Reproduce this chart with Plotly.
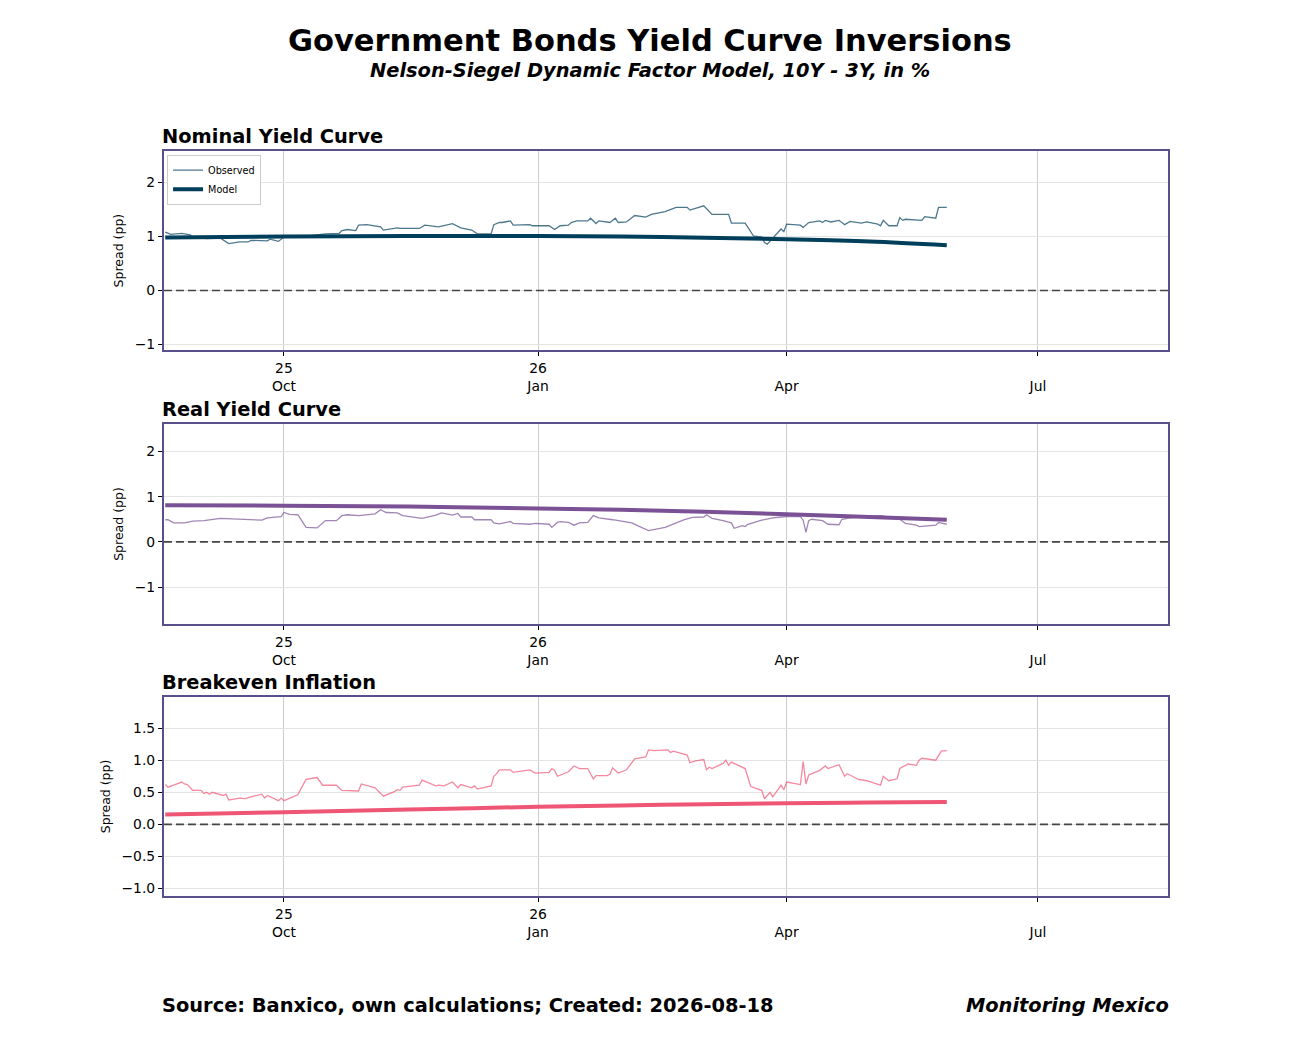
import plotly.graph_objects as go
from plotly.subplots import make_subplots

# ---- data (spread 10Y - 3Y, pp) ----
nom_obs_dates = [
    "2025-08-19", "2025-08-21", "2025-08-25", "2025-08-28", "2025-08-29", "2025-09-03",
    "2025-09-08", "2025-09-11", "2025-09-15", "2025-09-18", "2025-09-19", "2025-09-24",
    "2025-09-25", "2025-09-26", "2025-09-29", "2025-10-01", "2025-10-03", "2025-10-10",
    "2025-10-16", "2025-10-21", "2025-10-22", "2025-10-24", "2025-10-27", "2025-10-28",
    "2025-10-31", "2025-11-05", "2025-11-06", "2025-11-11", "2025-11-12", "2025-11-14",
    "2025-11-19", "2025-11-21", "2025-11-26", "2025-12-01", "2025-12-04", "2025-12-08",
    "2025-12-10", "2025-12-15", "2025-12-16", "2025-12-18", "2025-12-19", "2025-12-22",
    "2025-12-23", "2025-12-29", "2025-12-30", "2026-01-05", "2026-01-07", "2026-01-09",
    "2026-01-12", "2026-01-13", "2026-01-15", "2026-01-19", "2026-01-20", "2026-01-22",
    "2026-01-23", "2026-01-27", "2026-01-29", "2026-01-30", "2026-02-02", "2026-02-05",
    "2026-02-09", "2026-02-11", "2026-02-16", "2026-02-20", "2026-02-24", "2026-02-25",
    "2026-03-02", "2026-03-05", "2026-03-11", "2026-03-12", "2026-03-17", "2026-03-18",
    "2026-03-20", "2026-03-23", "2026-03-24", "2026-03-25", "2026-03-27", "2026-03-30",
    "2026-03-31", "2026-04-01", "2026-04-06", "2026-04-07", "2026-04-09", "2026-04-13",
    "2026-04-14", "2026-04-15", "2026-04-17", "2026-04-20", "2026-04-22", "2026-04-24",
    "2026-04-28", "2026-04-30", "2026-05-04", "2026-05-05", "2026-05-06", "2026-05-08",
    "2026-05-11", "2026-05-12", "2026-05-13", "2026-05-14", "2026-05-20", "2026-05-21",
    "2026-05-25", "2026-05-26", "2026-05-29",
]
nom_obs = [
    1.08, 1.04, 1.06, 1.03, 0.99, 0.96,
    0.97, 0.87, 0.90, 0.90, 0.93, 0.93,
    0.92, 0.95, 0.91, 0.99, 1.01, 1.01,
    1.05, 1.06, 1.11, 1.13, 1.11, 1.21,
    1.22, 1.18, 1.12, 1.16, 1.15, 1.15,
    1.15, 1.21, 1.18, 1.24, 1.16, 1.12,
    1.05, 1.05, 1.22, 1.26, 1.26, 1.29,
    1.21, 1.22, 1.20, 1.20, 1.13, 1.20,
    1.21, 1.26, 1.29, 1.29, 1.34, 1.24,
    1.29, 1.26, 1.34, 1.26, 1.27, 1.39,
    1.36, 1.41, 1.46, 1.54, 1.54, 1.49,
    1.57, 1.41, 1.41, 1.25, 1.25, 1.17,
    1.01, 0.99, 0.89, 0.86, 0.97, 1.14,
    1.09, 1.23, 1.21, 1.17, 1.26, 1.29,
    1.26, 1.30, 1.27, 1.30, 1.22, 1.28,
    1.25, 1.27, 1.23, 1.20, 1.30, 1.20,
    1.20, 1.35, 1.30, 1.32, 1.30, 1.37,
    1.34, 1.54, 1.54,
]

real_obs_dates = [
    "2025-08-19", "2025-08-20", "2025-08-22", "2025-08-26", "2025-08-29", "2025-09-02",
    "2025-09-08", "2025-09-16", "2025-09-19", "2025-09-23", "2025-09-25", "2025-09-30",
    "2025-10-01", "2025-10-03", "2025-10-06", "2025-10-09", "2025-10-13", "2025-10-16",
    "2025-10-20", "2025-10-22", "2025-10-24", "2025-10-28", "2025-11-03", "2025-11-05",
    "2025-11-07", "2025-11-11", "2025-11-13", "2025-11-20", "2025-11-25", "2025-11-27",
    "2025-12-01", "2025-12-03", "2025-12-04", "2025-12-08", "2025-12-09", "2025-12-15",
    "2025-12-16", "2025-12-18", "2025-12-22", "2025-12-23", "2025-12-29", "2025-12-31",
    "2026-01-05", "2026-01-06", "2026-01-08", "2026-01-09", "2026-01-12", "2026-01-14",
    "2026-01-16", "2026-01-19", "2026-01-21", "2026-01-23", "2026-01-28", "2026-02-04",
    "2026-02-06", "2026-02-10", "2026-02-16", "2026-02-19", "2026-02-23", "2026-02-26",
    "2026-03-02", "2026-03-03", "2026-03-05", "2026-03-09", "2026-03-12", "2026-03-13",
    "2026-03-16", "2026-03-17", "2026-03-18", "2026-03-23", "2026-03-26", "2026-03-27",
    "2026-03-30", "2026-04-01", "2026-04-06", "2026-04-07", "2026-04-08", "2026-04-09",
    "2026-04-10", "2026-04-14", "2026-04-16", "2026-04-17", "2026-04-20", "2026-04-21",
    "2026-04-24", "2026-04-30", "2026-05-05", "2026-05-12", "2026-05-14", "2026-05-18",
    "2026-05-19", "2026-05-25", "2026-05-26", "2026-05-29",
]
real_obs = [
    0.49, 0.49, 0.42, 0.42, 0.46, 0.47,
    0.52, 0.50, 0.49, 0.48, 0.53, 0.56,
    0.65, 0.61, 0.60, 0.32, 0.31, 0.47,
    0.47, 0.58, 0.60, 0.58, 0.62, 0.71,
    0.65, 0.64, 0.58, 0.52, 0.59, 0.64,
    0.59, 0.63, 0.55, 0.55, 0.49, 0.49,
    0.42, 0.40, 0.45, 0.41, 0.39, 0.41,
    0.39, 0.32, 0.43, 0.45, 0.43, 0.37,
    0.42, 0.43, 0.58, 0.53, 0.49, 0.42,
    0.36, 0.25, 0.32, 0.39, 0.49, 0.54,
    0.55, 0.60, 0.52, 0.47, 0.42, 0.30,
    0.36, 0.34, 0.39, 0.48, 0.52, 0.53,
    0.55, 0.56, 0.56, 0.48, 0.21, 0.47,
    0.50, 0.47, 0.39, 0.39, 0.38, 0.50,
    0.53, 0.56, 0.58, 0.50, 0.41, 0.37,
    0.34, 0.37, 0.43, 0.39,
]

be_obs_dates = [
    "2025-08-19", "2025-08-20", "2025-08-22", "2025-08-25", "2025-08-26", "2025-08-27",
    "2025-08-29", "2025-09-01", "2025-09-02", "2025-09-03", "2025-09-04", "2025-09-05",
    "2025-09-09", "2025-09-10", "2025-09-11", "2025-09-15", "2025-09-17", "2025-09-19",
    "2025-09-23", "2025-09-24", "2025-09-25", "2025-09-29", "2025-09-30", "2025-10-01",
    "2025-10-06", "2025-10-09", "2025-10-13", "2025-10-15", "2025-10-20", "2025-10-22",
    "2025-10-28", "2025-10-29", "2025-11-03", "2025-11-05", "2025-11-06", "2025-11-10",
    "2025-11-11", "2025-11-12", "2025-11-13", "2025-11-19", "2025-11-20", "2025-11-25",
    "2025-11-26", "2025-11-28", "2025-12-01", "2025-12-03", "2025-12-04", "2025-12-08",
    "2025-12-09", "2025-12-10", "2025-12-15", "2025-12-16", "2025-12-17", "2025-12-18",
    "2025-12-22", "2025-12-23", "2025-12-29", "2025-12-31", "2026-01-05", "2026-01-06",
    "2026-01-07", "2026-01-08", "2026-01-12", "2026-01-14", "2026-01-16", "2026-01-19",
    "2026-01-21", "2026-01-22", "2026-01-26", "2026-01-27", "2026-01-28", "2026-01-30",
    "2026-02-02", "2026-02-05", "2026-02-09", "2026-02-10", "2026-02-12", "2026-02-17",
    "2026-02-18", "2026-02-19", "2026-02-24", "2026-02-25", "2026-02-27", "2026-03-02",
    "2026-03-03", "2026-03-04", "2026-03-05", "2026-03-09", "2026-03-10", "2026-03-11",
    "2026-03-12", "2026-03-17", "2026-03-19", "2026-03-23", "2026-03-24", "2026-03-26",
    "2026-03-27", "2026-03-30", "2026-03-31", "2026-04-01", "2026-04-06", "2026-04-07",
    "2026-04-08", "2026-04-09", "2026-04-13", "2026-04-15", "2026-04-16", "2026-04-20",
    "2026-04-22", "2026-04-23", "2026-04-27", "2026-04-30", "2026-05-05", "2026-05-06",
    "2026-05-08", "2026-05-11", "2026-05-12", "2026-05-15", "2026-05-18", "2026-05-19",
    "2026-05-20", "2026-05-25", "2026-05-27", "2026-05-29",
]
be_obs = [
    0.62, 0.58, 0.61, 0.66, 0.63, 0.62,
    0.53, 0.53, 0.48, 0.50, 0.47, 0.50,
    0.45, 0.47, 0.38, 0.41, 0.40, 0.43,
    0.47, 0.41, 0.45, 0.37, 0.41, 0.37,
    0.46, 0.70, 0.73, 0.61, 0.61, 0.53,
    0.52, 0.63, 0.57, 0.49, 0.44, 0.51,
    0.54, 0.53, 0.58, 0.61, 0.69, 0.60,
    0.61, 0.60, 0.66, 0.57, 0.62, 0.57,
    0.60, 0.55, 0.60, 0.75, 0.79, 0.85,
    0.85, 0.81, 0.85, 0.80, 0.81, 0.87,
    0.84, 0.75, 0.82, 0.91, 0.87, 0.87,
    0.71, 0.76, 0.76, 0.78, 0.88, 0.80,
    0.85, 1.02, 1.05, 1.16, 1.15, 1.16,
    1.12, 1.14, 1.08, 0.96, 0.99, 1.01,
    0.85, 0.89, 0.87, 0.95, 1.00, 0.92,
    0.97, 0.87, 0.59, 0.53, 0.40, 0.50,
    0.43, 0.61, 0.54, 0.66, 0.62, 0.98,
    0.63, 0.77, 0.84, 0.91, 0.87, 0.93,
    0.75, 0.79, 0.70, 0.68, 0.61, 0.75,
    0.68, 0.71, 0.87, 0.94, 0.92, 1.00,
    1.03, 1.00, 1.14, 1.15,
]

model_dates = ["2025-08-19", "2025-10-01", "2025-11-15", "2026-01-01", "2026-02-15",
               "2026-04-01", "2026-05-01", "2026-05-29"]
nom_model = [0.98, 1.00, 1.01, 1.01, 0.99, 0.95, 0.91, 0.84]
real_model = [0.81, 0.80, 0.78, 0.74, 0.69, 0.61, 0.55, 0.49]
be_model = [0.155, 0.19, 0.23, 0.275, 0.305, 0.33, 0.34, 0.35]

tick_dates = ["2025-10-01", "2026-01-01", "2026-04-01", "2026-07-01"]
tick_labels = ["25<br>Oct", "26<br>Jan", "\u00a0<br>Apr", "\u00a0<br>Jul"]

panels = [
    ("Nominal Yield Curve", nom_obs_dates, nom_obs, nom_model, "0,63,92", [-1.11, 2.59], 1),
    ("Real Yield Curve", real_obs_dates, real_obs, real_model, "122,81,149", [-1.81, 2.60], 1),
    ("Breakeven Inflation", be_obs_dates, be_obs, be_model, "239,86,117", [-1.12, 1.99], 0.5),
]

FONT = "DejaVu Sans"
FRAME = "#58508d"

fig = make_subplots(rows=3, cols=1)

# page body has an 8px margin, so the figure is 8px smaller than the window
y_domains = [[0.6676, 0.8614], [0.4021, 0.5959], [0.1376, 0.3314]]
title_y = [0.8750, 0.6104, 0.3449]

for i, (name, d, obs, model, rgb, yr, dt) in enumerate(panels):
    row = i + 1
    fig.add_trace(go.Scatter(
        x=d, y=obs, mode="lines", name="Observed",
        line=dict(color=f"rgba({rgb},0.7)", width=1.3),
        showlegend=(i == 0)), row=row, col=1)
    fig.add_trace(go.Scatter(
        x=model_dates, y=model, mode="lines", name="Model",
        line=dict(color=f"rgb({rgb})", width=4, shape="spline"),
        showlegend=(i == 0)), row=row, col=1)
    fig.add_hline(y=0, line=dict(color="#444444", width=1.7, dash="8px,4px"), row=row, col=1)

    fig.update_xaxes(
        domain=[0.1207, 0.8978], range=["2025-08-18 13:00", "2026-08-17 02:00"],
        tickvals=tick_dates, ticktext=tick_labels, ticks="outside", ticklen=4,
        tickcolor="black", showgrid=True, gridcolor="#cccccc", gridwidth=1,
        showline=True, mirror=True, linecolor=FRAME, linewidth=2,
        tickfont=dict(family=FONT, size=13.9, color="black"), row=row, col=1)
    fig.update_yaxes(
        domain=y_domains[i], range=yr, dtick=dt,
        tickformat=".1f" if dt < 1 else "d",
        ticks="outside", ticklen=4, tickcolor="black",
        showgrid=True, gridcolor="#e4e4e4", zeroline=False,
        showline=True, mirror=True, linecolor=FRAME, linewidth=2,
        tickfont=dict(family=FONT, size=13.9, color="black"),
        title=dict(text="Spread (pp)", font=dict(family=FONT, size=12.5, color="black"), standoff=8),
        row=row, col=1)

    fig.add_annotation(text=f"<b>{name}</b>", xref="paper", yref="paper",
                       x=0.1177, y=title_y[i], xanchor="left", yanchor="middle",
                       showarrow=False, font=dict(family=FONT, size=19.4, color="black"))

fig.add_annotation(text="<b>Government Bonds Yield Curve Inversions</b>", xref="paper", yref="paper",
                   x=0.4969, y=0.9680, xanchor="center", yanchor="middle", showarrow=False,
                   font=dict(family=FONT, size=30.5, color="black"))
fig.add_annotation(text="<b><i>Nelson-Siegel Dynamic Factor Model, 10Y - 3Y, in %</i></b>",
                   xref="paper", yref="paper", x=0.4969, y=0.9395, xanchor="center", yanchor="middle",
                   showarrow=False, font=dict(family=FONT, size=19.4, color="black"))
fig.add_annotation(text="<b>Source: Banxico, own calculations; Created: 2026-08-18</b>",
                   xref="paper", yref="paper", x=0.1177, y=0.0320, xanchor="left", yanchor="middle",
                   showarrow=False, font=dict(family=FONT, size=19.4, color="black"))
fig.add_annotation(text="<b><i>Monitoring Mexico</i></b>",
                   xref="paper", yref="paper", x=0.9001, y=0.0320, xanchor="right", yanchor="middle",
                   showarrow=False, font=dict(family=FONT, size=19.4, color="black"))

fig.update_layout(
    width=1292, height=1032,
    margin=dict(l=0, r=0, t=0, b=0),
    paper_bgcolor="white", plot_bgcolor="white",
    font=dict(family=FONT, color="black"),
    legend=dict(x=0.1231, y=0.8576, xanchor="left", yanchor="top",
                bgcolor="white", bordercolor="#cccccc", borderwidth=1,
                font=dict(family=FONT, size=9.7), tracegroupgap=0, itemwidth=30),
)

fig.write_html("out.html")
